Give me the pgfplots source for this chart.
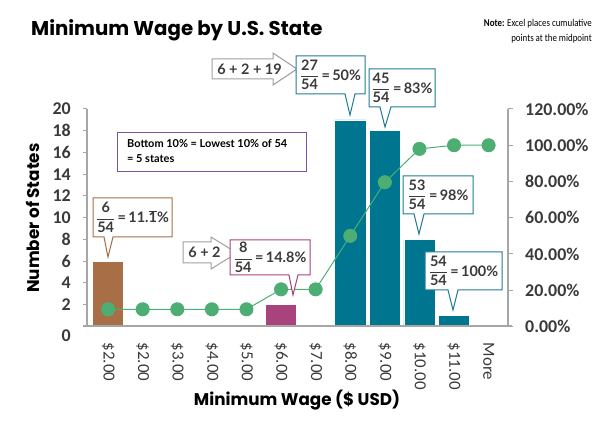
\documentclass[border=0pt]{standalone}
\usepackage{pgfplots}
\pgfplotsset{compat=1.18}
\usepackage{fontspec}
\setmainfont{Carlito}
\newfontfamily\titlefont{Poppins}[FakeStretch=0.99]
\newfontfamily\callfont{Lato}
\newfontfamily\notefont{Carlito}[FakeStretch=0.85]

\definecolor{tealbar}{HTML}{00758F}
\definecolor{brownbar}{HTML}{A86F47}
\definecolor{magbar}{HTML}{A8437D}
\definecolor{greenpt}{HTML}{4DAE74}
\definecolor{axisgray}{HTML}{A6A6A6}
\definecolor{tickgray}{HTML}{3A3A3A}
\definecolor{purplebox}{HTML}{7A52A8}
\definecolor{tealline}{HTML}{1F7C93}
\definecolor{arrowgray}{HTML}{A0A0A0}

\newcommand{\callout}[9]{%
  \filldraw[fill=white, draw=#9, line width=1bp] (#1,#2) -- (#3,#2) -- (#3,#4) -- (#6,#4) -- (#7,#8) -- (#5,#4) -- (#1,#4) -- cycle;}
\newcommand{\bigarrow}[7]{%
  \filldraw[fill=white, draw=arrowgray, line width=1bp] (#1,#4) -- (#2,#4) -- (#2,#6) -- (#3,{(#6+#7)/2}) -- (#2,#7) -- (#2,#5) -- (#1,#5) -- cycle;}
\newcommand{\fr}[2]{$\displaystyle\frac{\mbox{#1}}{\mbox{#2}}$}
\newcommand{\cfont}{\callfont\bfseries\fontsize{14.5}{16}\selectfont\color{tickgray}}

\begin{document}
\begin{tikzpicture}
\useasboundingbox (0,0) rectangle (605bp,425bp);

\begin{axis}[
  at={(87bp,98.5bp)}, anchor=south west,
  scale only axis, width=421bp, height=217.5bp,
  xmin=-0.61, xmax=11.56, ymin=0, ymax=20,
  axis x line*=bottom, axis y line*=left,
  axis line style={draw=axisgray, line width=2bp},
  xtick={0,1,2,3,4,5,6,7,8,9,10,11},
  xticklabels={\$2.00,\$2.00,\$3.00,\$4.00,\$5.00,\$6.00,\$7.00,\$8.00,\$9.00,\$10.00,\$11.00,More},
  xticklabel style={yshift=-12bp, rotate=-90, anchor=west, inner sep=0pt, font=\fontsize{17}{17}\selectfont, text=tickgray},
  x tick style={draw=none},
  ytick={2,4,6,8,10,12,14,16,18,20},
  yticklabels={2,4,6,8,10,12,14,16,18,20},
  extra y ticks={0}, extra y tick labels={0},
  extra y tick style={yticklabel style={yshift=-9.5bp}},
  yticklabel style={anchor=east, inner sep=0pt, xshift=-12bp, font=\bfseries\fontsize{18}{18}\selectfont, text=tickgray},
  y tick style={draw=axisgray, line width=1bp},
  tick align=outside, major tick length=4bp,
  clip=false,
]
\addplot[ybar, bar width=0.9, bar shift=0pt, fill=brownbar, draw=white, line width=0.6bp] coordinates {(0,6)};
\addplot[ybar, bar width=0.9, bar shift=0pt, fill=magbar, draw=white, line width=0.6bp] coordinates {(5,2)};
\addplot[ybar, bar width=0.9, bar shift=0pt, fill=tealbar, draw=white, line width=0.6bp] coordinates {(7,19) (8,18) (9,8) (10,1)};
\end{axis}

\begin{axis}[
  at={(87bp,98.5bp)}, anchor=south west,
  scale only axis, width=421bp, height=217.5bp,
  xmin=-0.61, xmax=11.56, ymin=0, ymax=1.2,
  axis x line=none, axis y line*=right,
  axis line style={draw=axisgray, line width=2bp},
  ytick={0,0.2,0.4,0.6,0.8,1.0,1.2},
  yticklabels={0.00\%,20.00\%,40.00\%,60.00\%,80.00\%,100.00\%,120.00\%},
  yticklabel style={anchor=west, inner sep=0pt, xshift=12bp, font=\bfseries\fontsize{18}{18}\selectfont, text=tickgray},
  y tick style={draw=axisgray, line width=1bp},
  tick align=outside, major tick length=5bp,
  clip=false,
]
\addplot[color=greenpt, line width=1bp, mark=*, mark size=6.5bp, mark options={fill=greenpt, draw=greenpt}]
  coordinates {(0,0.095) (1,0.095) (2,0.095) (3,0.095) (4,0.095) (5,0.205) (6,0.205) (7,0.50) (8,0.796) (9,0.98) (10,1.0) (11,1.0)};
\end{axis}

\begin{scope}[x=1bp, y=-1bp, yshift=425bp]
  % extended baseline
  \draw[axisgray, line width=2bp] (83,326.5) -- (512,326.5);
  % title and note
  \node[anchor=base west, inner sep=0pt] at (31,36) {\titlefont\bfseries\fontsize{20}{20}\selectfont Minimum Wage by U.S. State};
  \node[anchor=north east, inner sep=0pt, align=right, font=\notefont\fontsize{10.5}{15}\selectfont] at (592,19) {\textbf{Note:} Excel places cumulative\\points at the midpoint};
  % axis titles
  \node[rotate=90, inner sep=0pt] at (33,218) {\titlefont\bfseries\fontsize{17}{17}\selectfont Number of States};
  \node[inner sep=0pt] at (297,400) {\titlefont\bfseries\fontsize{17}{17}\selectfont Minimum Wage (\$ USD)};
  % bottom 10% box
  \draw[purplebox, line width=1bp, fill=white] (117,133) rectangle (306,172);
  \node[anchor=north west, inner sep=0pt, align=left, font=\callfont\bfseries\fontsize{11}{15}\selectfont] at (127,139) {Bottom 10\% = Lowest 10\% of 54\\= 5 states};
  % arrows
  \bigarrow{212}{273}{297}{59}{79}{53}{85}
  \node[inner sep=0pt] at (249.5,69) {\cfont 6 + 2 + 19};
  \bigarrow{183}{211}{237}{242}{263}{237}{269}
  \node[inner sep=0pt] at (204.5,252.5) {\cfont 6 + 2};
  % callouts
  \callout{93}{198}{172}{237}{104}{113}{108}{257}{brownbar}
  \node[inner sep=0pt] at (132.5,217.5) {\cfont\fr{6}{54}\,=\,11.$\overline{\mbox{1}}$\%};
  \callout{230}{240}{310}{275}{289}{298}{293}{295}{magbar}
  \node[inner sep=0pt] at (270,257.5) {\cfont\fr{8}{54}\,=\,14.8\%};
  \callout{296}{56}{365}{94}{345}{355}{350}{115}{tealline}
  \node[inner sep=0pt] at (330.5,75) {\cfont\fr{27}{54}\,=\,50\%};
  \callout{369}{69}{435}{107}{380}{391}{385}{127}{tealline}
  \node[inner sep=0pt] at (402,88) {\cfont\fr{45}{54}\,=\,83\%};
  \callout{403}{176}{473}{214}{414}{424}{419}{234}{tealline}
  \node[inner sep=0pt] at (438,195) {\cfont\fr{53}{54}\,=\,98\%};
  \callout{425}{252}{502}{290}{448}{458}{453}{310}{tealline}
  \node[inner sep=0pt] at (463.5,271) {\cfont\fr{54}{54}\,=\,100\%};
\end{scope}
\end{tikzpicture}
\end{document}
